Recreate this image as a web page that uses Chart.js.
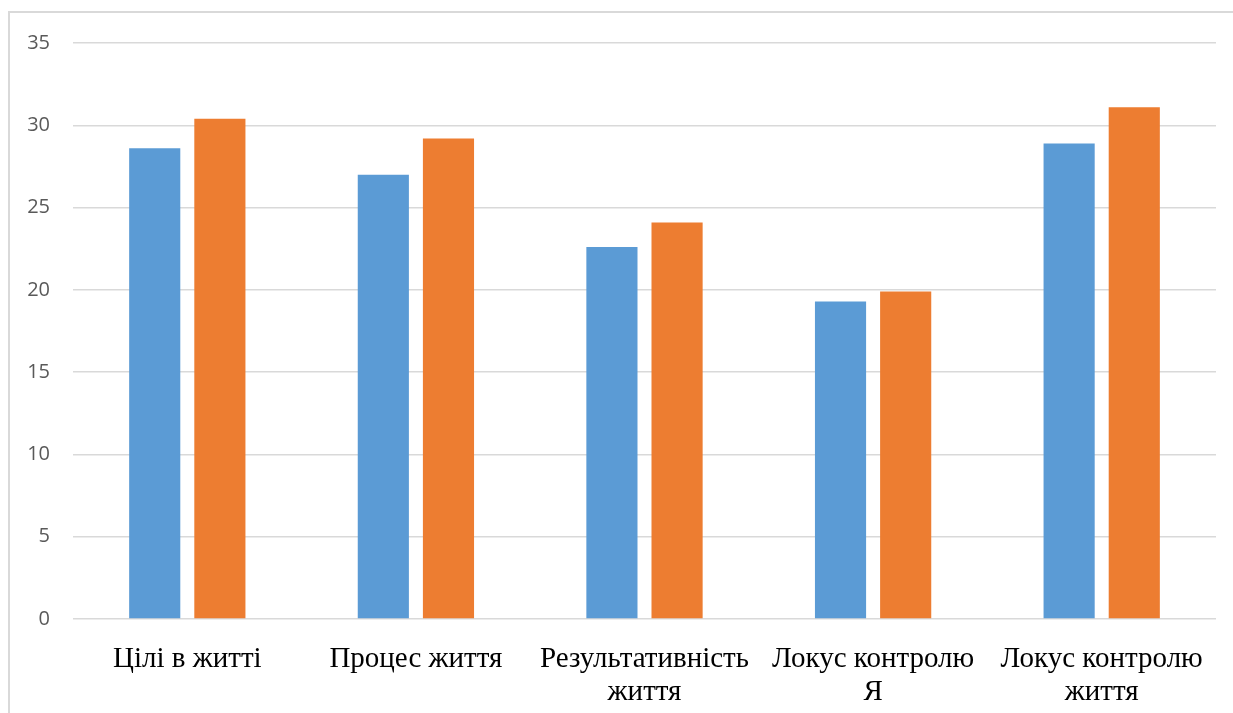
<!DOCTYPE html><html lang="uk">
<head>
  <meta charset="UTF-8">
  <title>Chart</title>
  <script src="https://cdn.jsdelivr.net/npm/chart.js"></script>
  <style>
    html, body { margin: 0; padding: 0; background: #fff; overflow: hidden; }
    #wrap { position: relative; width: 1233px; height: 713px; }
    #frame { position: absolute; left: 8px; top: 11px; width: 1240px; height: 720px; border: 2px solid #D9D9D9; box-sizing: border-box; }
    canvas { position: absolute; left: 0; top: 0; }
  </style>
</head>
<body>
<div id="wrap">
  <div id="frame"></div>
  <canvas id="barChart" width="1233" height="713"></canvas>
</div>
<script>
  const categories = [
    ['Цілі в житті'],
    ['Процес життя'],
    ['Результативність', 'життя'],
    ['Локус контролю', 'Я'],
    ['Локус контролю', 'життя']
  ];
  const seriesBlue = [28.6, 27.0, 22.6, 19.3, 28.9];
  const seriesOrange = [30.4, 29.2, 24.1, 19.9, 31.1];
  const yTicks = [0, 5, 10, 15, 20, 25, 30, 35];

  const ctx = document.getElementById('barChart').getContext('2d');
  new Chart(ctx, {
    type: 'bar',
    data: {
      labels: categories,
      datasets: [
        { label: 'Ряд 1', data: seriesBlue, backgroundColor: '#5B9BD5', categoryPercentage: 0.57, barPercentage: 0.785 },
        { label: 'Ряд 2', data: seriesOrange, backgroundColor: '#ED7D31', categoryPercentage: 0.57, barPercentage: 0.785 }
      ]
    },
    options: {
      responsive: false,
      animation: false,
      layout: { padding: { left: 9, right: 17, top: 43, bottom: 0 } },
      plugins: { legend: { display: false }, tooltip: { enabled: false } },
      scales: {
        x: {
          grid: { display: false },
          border: { display: false },
          ticks: {
            color: '#000',
            font: { family: '"Liberation Serif", "Times New Roman", serif', size: 29, lineHeight: 1.14 },
            padding: 16,
            maxRotation: 0,
            autoSkip: false
          },
          afterFit: s => { s.height = 94; }
        },
        y: {
          min: 0,
          max: 35,
          afterBuildTicks: s => { s.ticks = yTicks.map(v => ({ value: v })); },
          grid: { color: '#D9D9D9', lineWidth: 1.5, drawTicks: false },
          border: { display: false },
          ticks: {
            color: '#595959',
            font: { family: '"Open Sans", "Liberation Sans", sans-serif', size: 20 },
            padding: 23
          },
          afterFit: s => { s.width = 64; }
        }
      }
    }
  });
</script>
</body>
</html>
